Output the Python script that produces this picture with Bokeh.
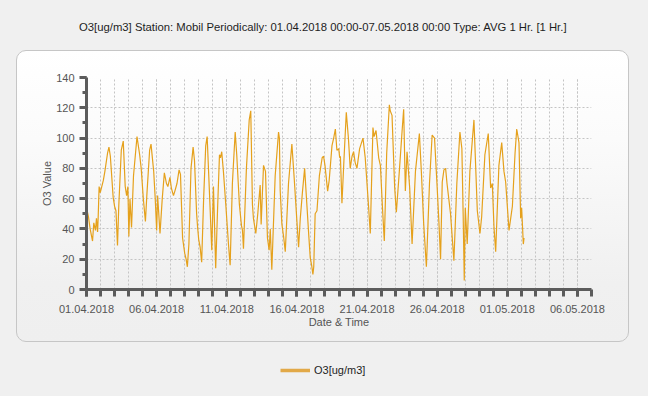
from datetime import datetime, timedelta

from bokeh.plotting import figure
from bokeh.layouts import column
from bokeh.models import (Range1d, FixedTicker, SingleIntervalTicker, Title,
                          Legend, LegendItem, InlineStyleSheet)
from bokeh.embed import file_html
from bokeh.resources import INLINE

# ---------------- data ----------------
title_text = ("O3[ug/m3] Station: Mobil  Periodically: 01.04.2018 00:00-07.05.2018 00:00  "
              "Type: AVG 1 Hr. [1 Hr.]")
series_name = "O3[ug/m3]"
period_start = "01.04.2018"
period_end = "07.05.2018"

# time in days since 01.04.2018 00:00
day_offsets = [
    0.0, 0.05, 0.14, 0.26, 0.43, 0.52, 0.64, 0.71, 0.79, 0.83,
    0.9, 0.98, 1.2, 1.31, 1.5, 1.6, 1.7, 1.9, 2.0, 2.1,
    2.21, 2.3, 2.48, 2.62, 2.76, 2.86, 2.95, 3.02, 3.1, 3.21,
    3.35, 3.6, 3.79, 3.9, 4.05, 4.2, 4.3, 4.5, 4.6, 4.79,
    4.9, 5.0, 5.07, 5.24, 5.4, 5.55, 5.7, 5.8, 5.95, 6.05,
    6.2, 6.3, 6.45, 6.6, 6.7, 6.85, 7.0, 7.1, 7.19, 7.3,
    7.45, 7.6, 7.7, 7.85, 7.93, 8.0, 8.1, 8.21, 8.35, 8.5,
    8.6, 8.81, 8.93, 9.05, 9.21, 9.35, 9.48, 9.55, 9.64, 9.76,
    9.93, 10.12, 10.24, 10.4, 10.6, 10.71, 10.9, 11.05, 11.12, 11.19,
    11.4, 11.6, 11.71, 11.83, 11.9, 12.07, 12.21, 12.38, 12.45, 12.62,
    12.76, 12.9, 13.02, 13.1, 13.21, 13.45, 13.69, 13.75, 13.81, 13.93,
    14.05, 14.17, 14.4, 14.64, 14.81, 15.0, 15.12, 15.24, 15.4, 15.55,
    15.71, 15.85, 15.95, 16.05, 16.14, 16.2, 16.3, 16.43, 16.6, 16.8,
    16.9, 17.0, 17.19, 17.3, 17.5, 17.62, 17.74, 17.85, 17.98, 18.05,
    18.1, 18.21, 18.35, 18.52, 18.67, 18.8, 18.93, 19.04, 19.15, 19.28,
    19.47, 19.71, 19.87, 20.1, 20.23, 20.42, 20.5, 20.64, 20.83, 20.95,
    21.11, 21.23, 21.4, 21.59, 21.65, 21.78, 21.97, 22.09, 22.3, 22.5,
    22.61, 22.73, 22.85, 23.04, 23.21, 23.45, 23.73, 23.87, 24.04, 24.23,
    24.45, 24.64, 24.81, 25.0, 25.12, 25.24, 25.36, 25.48, 25.6, 25.7,
    25.95, 26.19, 26.4, 26.62, 26.76, 26.85, 26.93, 27.0, 27.14, 27.33,
    27.62, 27.86, 28.05, 28.17, 28.4, 28.64, 28.81, 28.93, 29.05, 29.17,
    29.4, 29.6, 29.76, 29.88, 30.12, 30.36, 30.55, 30.67, 30.83, 30.95,
    31.02, 31.14, 31.19,
]
o3_values = [
    57, 52, 48, 40, 32, 44, 39, 47, 38, 47,
    68, 64, 72, 78, 90, 94, 88, 61, 55, 52,
    29, 55, 92, 98, 68, 62, 68, 35, 60, 41,
    75, 101, 89, 80, 60, 45, 62, 92, 96, 78,
    60, 39, 62, 37, 60, 77, 70, 68, 74, 67,
    62, 65, 70, 79, 76, 34, 24, 20, 15, 30,
    80, 94, 85, 50, 40, 33, 28, 18, 60, 95,
    101, 54, 26, 68, 14, 55, 89, 87, 91, 78,
    56, 30, 16, 70, 104, 89, 56, 42, 39, 27,
    80, 112, 118, 56, 47, 37, 50, 69, 43, 82,
    78, 34, 26, 40, 13, 75, 104, 100, 65, 43,
    35, 25, 70, 96, 73, 45, 28, 47, 65, 80,
    56, 35, 21, 16, 10, 15, 50, 52, 75, 87,
    88, 82, 65, 72, 95, 100, 106, 92, 93, 87,
    88, 57, 85, 117, 100, 80, 88, 91, 84, 80,
    93, 100, 87, 56, 37, 107, 101, 105, 87, 82,
    52, 32, 90, 122, 118, 115, 67, 51, 78, 105,
    119, 65, 91, 67, 30, 78, 103, 78, 43, 15,
    70, 102, 100, 67, 45, 20, 71, 79, 80, 70,
    50, 19, 70, 104, 93, 50, 6, 54, 30, 78,
    112, 52, 37, 48, 89, 103, 67, 70, 41, 25,
    82, 97, 78, 71, 39, 55, 90, 106, 97, 47,
    54, 30, 34,
]
x_tick_labels = ["01.04.2018", "06.04.2018", "11.04.2018", "16.04.2018",
                 "21.04.2018", "26.04.2018", "01.05.2018", "06.05.2018"]
y_min, y_max, y_step = 0, 140, 20

# ---------------- helpers ----------------
EPOCH = datetime(1970, 1, 1)


def to_ms(dt):
    return int((dt - EPOCH).total_seconds() * 1000)


start = datetime.strptime(period_start, "%d.%m.%Y")
end = datetime.strptime(period_end, "%d.%m.%Y")
xs = [start + timedelta(days=d) for d in day_offsets]

major_ms = [to_ms(datetime.strptime(s, "%d.%m.%Y")) for s in x_tick_labels]
n_days = (end - start).days
minor_ms = [to_ms(start + timedelta(days=i)) for i in range(n_days + 1)]

FONT = "Liberation Sans"
LINE_COLOR = "#E5A11C"
W = 648
H1, H2 = 352, 44
ML, MR, MT, MB = 86, 57, 77, 63

css_main = """
:host { position: relative; isolation: isolate; background-color: #f0f0f0; }
:host::before {
  content: ""; position: absolute; z-index: -1;
  left: 16px; top: 50px; width: 613px; height: 292px;
  border: 1.5px solid #c6c6c6; border-radius: 10px;
  background: linear-gradient(to bottom, #ffffff 0%, #fbfbfb 30%, #f0f0f0 80%, #efefef 100%);
}
"""
css_strip = ":host { background-color: #f0f0f0; }"

p = figure(width=W, height=H1, x_axis_type="datetime",
           x_range=Range1d(start, end), y_range=Range1d(y_min, y_max),
           output_backend="svg", toolbar_location=None,
           min_border_left=ML, min_border_right=MR,
           min_border_top=MT, min_border_bottom=MB)
p.stylesheets = [InlineStyleSheet(css=css_main)]
p.border_fill_color = None
p.background_fill_color = None
p.outline_line_color = None

# ---- data line
p.line(xs, o3_values, line_color=LINE_COLOR, line_width=1.2)

# ---- axes
xa = p.xaxis[0]
xa.ticker = FixedTicker(ticks=major_ms, minor_ticks=minor_ms)
xa.major_label_overrides = {m: s for m, s in zip(major_ms, x_tick_labels)}
ya = p.yaxis[0]
ya.ticker = SingleIntervalTicker(interval=y_step, num_minor_ticks=2)

for ax in (xa, ya):
    ax.axis_line_color = "#5c5c5c"
    ax.axis_line_width = 3
    ax.major_tick_line_color = "#5c5c5c"
    ax.major_tick_line_width = 3
    ax.minor_tick_line_color = "#5c5c5c"
    ax.minor_tick_line_width = 3
    ax.major_tick_in = 0
    ax.minor_tick_in = 0
    ax.major_tick_out = 7
    ax.major_label_text_font = FONT
    ax.major_label_text_font_size = "11px"
    ax.major_label_text_color = "#555555"
    ax.axis_label_text_font = FONT
    ax.axis_label_text_font_size = "11px"
    ax.axis_label_text_color = "#555555"
    ax.axis_label_text_font_style = "normal"
xa.minor_tick_out = 7
ya.minor_tick_out = 4
xa.major_label_standoff = 8
ya.major_label_standoff = 5
xa.axis_label = "Date & Time"
ya.axis_label = "O3 Value"
xa.axis_label_standoff = 0
ya.axis_label_standoff = 0

# ---- grid
p.xgrid.grid_line_color = "#c4c4c4"
p.xgrid.grid_line_dash = "2 2"
p.xgrid.minor_grid_line_color = "#c4c4c4"
p.xgrid.minor_grid_line_dash = "2 2"
p.ygrid.grid_line_color = "#c4c4c4"
p.ygrid.grid_line_dash = "2 2"

# ---- title (spacer next to the frame, then the real title further out)
p.add_layout(Title(text=" ", text_font=FONT, text_font_size="11px", standoff=31), "above")
p.add_layout(Title(text=title_text, align="left", offset=-7.5, standoff=0,
                   text_font=FONT, text_font_size="11.3px", text_font_style="normal",
                   text_color="#1e1e1e"), "above")

# ---- legend strip underneath the panel
q = figure(width=W, height=H2, x_range=Range1d(0, 1), y_range=Range1d(0, 1),
           output_backend="svg", toolbar_location=None,
           x_axis_location=None, y_axis_location=None,
           min_border_left=0, min_border_right=0, min_border_top=0, min_border_bottom=0)
q.stylesheets = [InlineStyleSheet(css=css_strip)]
q.border_fill_color = None
q.background_fill_color = None
q.outline_line_color = None
q.xgrid.visible = False
q.ygrid.visible = False
proxy = q.line([float("nan")], [float("nan")], line_color="#e2a948", line_width=3.5)
legend = Legend(items=[LegendItem(label=series_name, renderers=[proxy])],
                location=(280 - ML, 20),
                orientation="horizontal", glyph_width=30, glyph_height=12,
                label_height=12, label_standoff=4, padding=0, margin=0,
                border_line_color=None, background_fill_alpha=0,
                label_text_font=FONT, label_text_font_size="11px",
                label_text_color="#1e1e1e")
q.add_layout(legend, "center")

page = column(p, q, spacing=0)
open("out.html", "w").write(file_html(page, INLINE))
